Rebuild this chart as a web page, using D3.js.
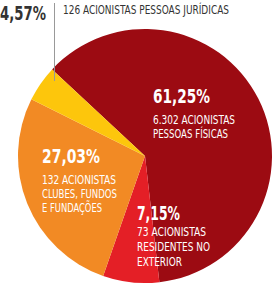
<!DOCTYPE html>
<html>
<head>
<meta charset="utf-8">
<script src="https://cdn.jsdelivr.net/npm/d3@7"></script>
<style>
  body { margin: 0; background: #fff; }
  text { font-family: "DejaVu Sans Condensed", "DejaVu Sans", sans-serif; font-stretch: condensed; }
</style>
</head>
<body>
<div class="container"></div>
<script>
const categories = ['Pessoas físicas', 'Residentes no exterior', 'Clubes, fundos e fundações', 'Pessoas jurídicas'];
const values = [61.25, 7.15, 27.03, 4.57];
const percentLabels = ['61,25%', '7,15%', '27,03%', '4,57%'];
const descLines = [
    ['6.302 ACIONISTAS', 'PESSOAS FÍSICAS'],
    ['73 ACIONISTAS', 'RESIDENTES NO', 'EXTERIOR'],
    ['132 ACIONISTAS', 'CLUBES, FUNDOS', 'E FUNDAÇÕES'],
    ['126 ACIONISTAS PESSOAS JURÍDICAS']
];
const colors = ['#9c0b12', '#e41f26', '#f28a24', '#fdc60c'];

const width = 274;
const height = 284;
const cx = 145, cy = 156, radius = 127;

// label layout: percent baseline, description start, widths of each line
const labelPos = [
    { x: 153, y: 103, dx: 153, dy: 124, line: 14, fs: 13, fill: '#fff', pw: 57, w: [82, 75] },
    { x: 137, y: 220, dx: 137, dy: 236, line: 15, fs: 13, fill: '#fff', pw: 43, w: [69, 73, 45] },
    { x: 42, y: 163, dx: 42, dy: 184, line: 14, fs: 13, fill: '#fff', pw: 58, w: [74, 75, 60] },
    { x: 0, y: 20, dx: 63, dy: 14, line: 14, fs: 11.5, fill: '#333', pw: 46, w: [166] }
];

const svg = d3.select('.container')
    .append('svg')
    .attr('width', width)
    .attr('height', height);

const pie = d3.pie()
    .sort(null)
    .value(d => d)
    .startAngle(-47 * Math.PI / 180)
    .endAngle(313 * Math.PI / 180);

const arc = d3.arc().innerRadius(0).outerRadius(radius);

const g = svg.append('g').attr('transform', `translate(${cx},${cy})`);

g.selectAll('path')
    .data(pie(values))
    .enter()
    .append('path')
    .attr('d', arc)
    .attr('fill', (d, i) => colors[i]);

// leader line for the small slice
svg.append('line')
    .attr('x1', 54.5).attr('x2', 54.5)
    .attr('y1', 3).attr('y2', 81)
    .attr('stroke', '#999')
    .attr('stroke-width', 1);

const labels = svg.selectAll('g.label')
    .data(values)
    .enter()
    .append('g')
    .attr('class', 'label');

labels.append('text')
    .attr('x', (d, i) => labelPos[i].x)
    .attr('y', (d, i) => labelPos[i].y)
    .attr('fill', (d, i) => labelPos[i].fill)
    .attr('font-size', 19)
    .attr('font-weight', 'bold')
    .attr('textLength', (d, i) => labelPos[i].pw)
    .attr('lengthAdjust', 'spacingAndGlyphs')
    .text((d, i) => percentLabels[i]);

labels.each(function (d, i) {
    const p = labelPos[i];
    descLines[i].forEach((s, j) => {
        d3.select(this).append('text')
            .attr('fill', p.fill)
            .attr('font-size', p.fs)
            .attr('x', p.dx)
            .attr('y', p.dy + j * p.line)
            .attr('textLength', p.w[j])
            .attr('lengthAdjust', 'spacingAndGlyphs')
            .text(s);
    });
});
</script>
</body>
</html>
